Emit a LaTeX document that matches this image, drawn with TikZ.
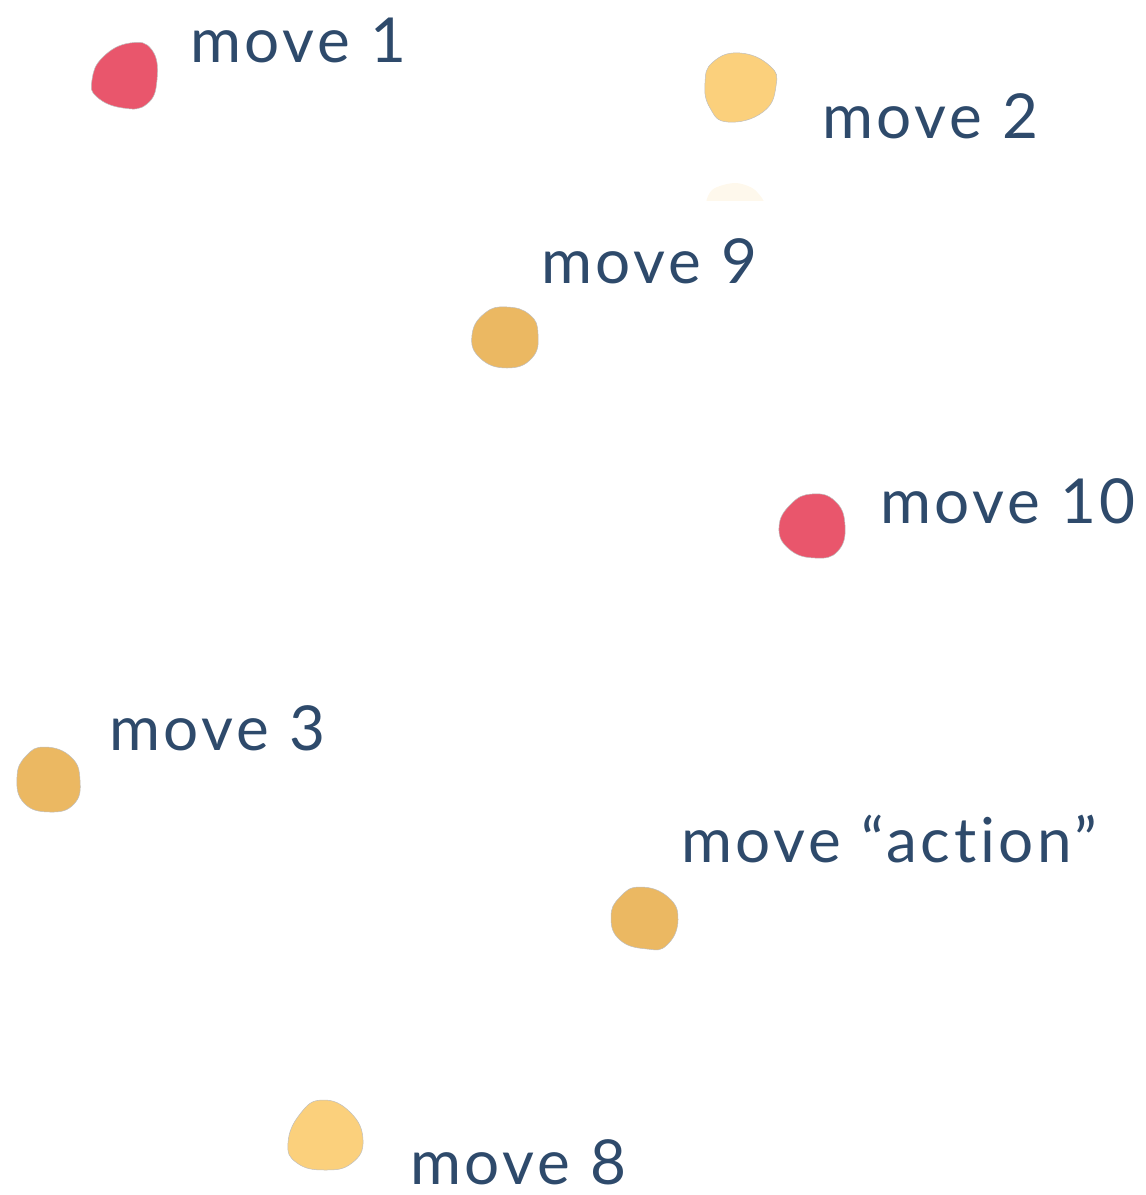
\documentclass[tikz,border=0pt]{standalone}
\usepackage{fontspec}
\setmainfont{Lato}[LetterSpace=6, Ligatures=NoCommon]
\definecolor{txt}{HTML}{2E4A6B}
\definecolor{redb}{HTML}{E9566C}
\definecolor{lyel}{HTML}{FBD07C}
\definecolor{oran}{HTML}{EBB862}
\definecolor{faint}{HTML}{FEF8EC}
\tikzset{
  lbl/.style={anchor=base west, text=txt, inner sep=0pt, font=\fontsize{62}{70}\selectfont},
  blob/.style={line width=0.5pt, draw=black!25},
}
\begin{document}
\begin{tikzpicture}[x=1pt,y=-1pt]
\useasboundingbox (0,0) rectangle (1146,1195);
% blobs
\fill[redb,blob] plot[smooth cycle, tension=0.8] coordinates {(130,43) (152,50) (157,80) (147,104) (123,108) (97,97) (92,80) (103,57)};
\fill[lyel,blob] plot[smooth cycle, tension=0.8] coordinates {(740,53) (770,66) (776,86) (763,112) (728,122) (710,108) (705,83) (713,62)};
\begin{scope}
\clip (690,175) rectangle (790,200);
\fill[faint] plot[smooth cycle] coordinates {(735,183) (755,190) (765,210) (735,235) (707,210) (712,190)};
\end{scope}
\fill[oran,blob] plot[smooth cycle, tension=0.8] coordinates {(507,307) (530,315) (538,334) (532,358) (507,368) (480,358) (472,335) (485,313)};
\fill[redb,blob] plot[smooth cycle, tension=0.8] coordinates {(812,494) (835,501) (845,525) (838,551) (815,558) (789,549) (779,527) (791,504)};
\fill[oran,blob] plot[smooth cycle, tension=0.8] coordinates {(45,747) (71,757) (80,780) (74,804) (50,812) (24,803) (17,777) (26,756)};
\fill[oran,blob] plot[smooth cycle, tension=0.8] coordinates {(640,887) (668,897) (678,920) (667,945) (647,949) (620,940) (611,917) (620,897)};
\fill[lyel,blob] plot[smooth cycle, tension=0.8] coordinates {(322,1100) (350,1112) (363,1140) (352,1163) (325,1170) (297,1163) (288,1143) (300,1114)};
% labels
\node[lbl] (m1) at (190,62) {move 1};
\node[lbl] (m2) at (822,138) {move 2};
\node[lbl] (m9) at (541,283) {move 9};
\node[lbl] (m10) at (880,523) {move 10};
\node[lbl] (m3) at (109,750) {move 3};
\node[lbl] (ma) at (681,862) {move “action”};
\node[lbl] (m8) at (410,1184) {move 8};
\end{tikzpicture}
\end{document}
